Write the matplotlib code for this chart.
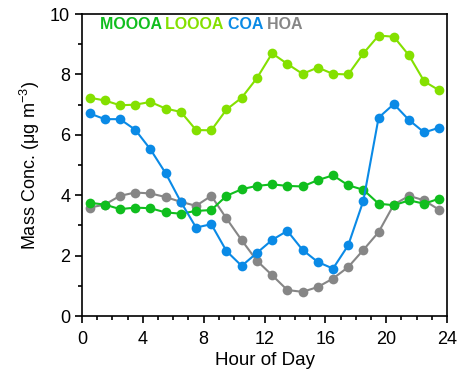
import numpy as np
import matplotlib.pyplot as plt
from matplotlib.ticker import MultipleLocator

plt.rcParams['font.family'] = ['Liberation Sans', 'DejaVu Sans']

hours = np.arange(24) + 0.5

mooa = [3.75, 3.69, 3.54, 3.59, 3.57, 3.43, 3.39, 3.48, 3.51, 3.98, 4.20, 4.31,
        4.36, 4.31, 4.29, 4.50, 4.66, 4.33, 4.18, 3.72, 3.67, 3.83, 3.72, 3.89]
looa = [7.23, 7.14, 6.98, 7.00, 7.09, 6.87, 6.76, 6.16, 6.15, 6.84, 7.23, 7.88,
        8.70, 8.35, 8.02, 8.23, 8.02, 8.00, 8.70, 9.29, 9.25, 8.63, 7.77, 7.47]
coa = [6.71, 6.52, 6.52, 6.17, 5.52, 4.73, 3.78, 2.93, 3.04, 2.15, 1.66, 2.09,
       2.52, 2.82, 2.19, 1.79, 1.57, 2.34, 3.82, 6.57, 7.02, 6.49, 6.08, 6.24]
hoa = [3.59, 3.69, 3.98, 4.09, 4.06, 3.94, 3.78, 3.65, 3.98, 3.23, 2.51, 1.83,
       1.35, 0.86, 0.80, 0.96, 1.24, 1.62, 2.19, 2.78, 3.69, 3.98, 3.83, 3.51]

names = ['MOOOA', 'LOOOA', 'COA', 'HOA']
colors = ['#10BE1E', '#84E000', '#0A8AE6', '#868686']

fig = plt.figure(figsize=(4.59, 3.81), dpi=100)
ax = fig.add_axes([0.1786, 0.1706, 0.7954, 0.7924])

# gray first so the others sit on top where they cross
for y, c in [(hoa, colors[3]), (mooa, colors[0]), (looa, colors[1]), (coa, colors[2])]:
    ax.plot(hours, y, '-o', color=c, lw=1.5, ms=7, mew=0)

ax.set_xlim(0, 24)
ax.set_ylim(0, 10)
ax.xaxis.set_major_locator(MultipleLocator(4))
ax.xaxis.set_minor_locator(MultipleLocator(1))
ax.yaxis.set_major_locator(MultipleLocator(2))
ax.yaxis.set_minor_locator(MultipleLocator(1))
ax.tick_params(which='both', direction='out', labelsize=13, width=1.2)
ax.tick_params(which='major', length=5)
ax.tick_params(which='minor', length=3)
ax.tick_params(axis='x', pad=6)
for s in ax.spines.values():
    s.set_linewidth(1.2)

ax.set_xlabel('Hour of Day', fontsize=13.5, labelpad=3)
ax.set_ylabel('Mass Conc. ($\\mathregular{\\mu g\\ m^{-3}}$)', fontsize=13, labelpad=6)

# colored species names used as legend
t = ax.text(0.048, 0.99, names[0] + ' ', transform=ax.transAxes, color=colors[0],
            fontsize=11.5, fontweight='bold', va='top')
for n, c in zip(names[1:], colors[1:]):
    t = ax.annotate(n + ' ', xy=(1, 0), xycoords=t, color=c, fontsize=11.5,
                    fontweight='bold', va='bottom')

fig.savefig('out.png', dpi=100)
